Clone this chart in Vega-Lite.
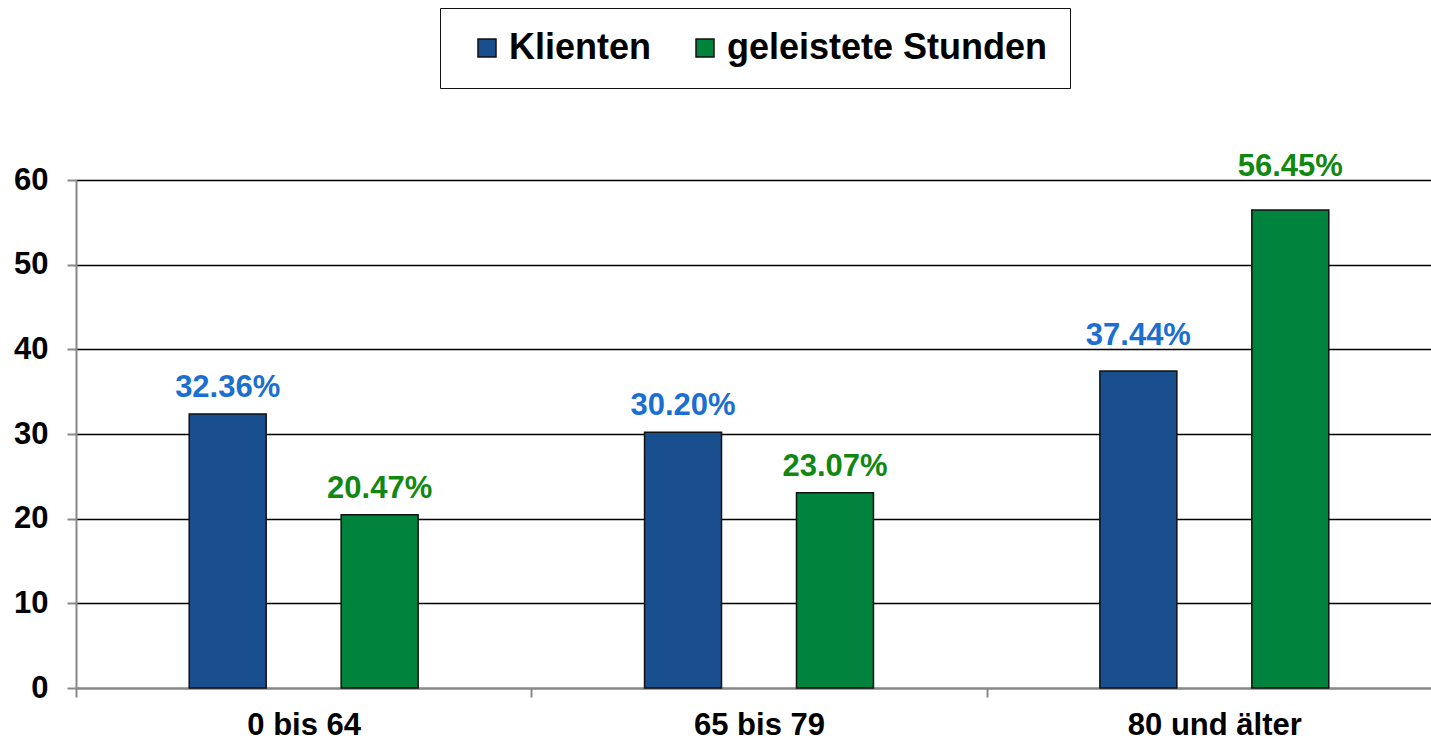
{
  "$schema": "https://vega.github.io/schema/vega-lite/v6.json",
  "autosize": {"type": "none"},
  "padding": {"left": 76, "top": 180, "right": 0, "bottom": 54},
  "width": 1355,
  "height": 508,
  "background": "white",
  "config": {
    "view": {"stroke": null},
    "font": "Liberation Sans",
    "axisY": {
      "labelFontSize": 31,
      "labelFontWeight": "bold",
      "labelColor": "#000000",
      "labelPadding": 19,
      "domainColor": "#888888",
      "domainWidth": 2,
      "tickColor": "#888888",
      "tickWidth": 2,
      "tickSize": 9,
      "grid": true,
      "gridColor": "#000000",
      "gridWidth": 1.5
    }
  },
  "data": {
    "values": [
      {"group": "0 bis 64", "series": "Klienten", "value": 32.36},
      {"group": "0 bis 64", "series": "geleistete Stunden", "value": 20.47},
      {"group": "65 bis 79", "series": "Klienten", "value": 30.20},
      {"group": "65 bis 79", "series": "geleistete Stunden", "value": 23.07},
      {"group": "80 und älter", "series": "Klienten", "value": 37.44},
      {"group": "80 und älter", "series": "geleistete Stunden", "value": 56.45}
    ]
  },
  "transform": [
    {"calculate": "format(datum.value, '.2f') + '%'", "as": "label"},
    {"calculate": "floor((datum.value + 4.7) / 10) * 10 > datum.value + 0.3 ? floor((datum.value + 4.7) / 10) * 10 + 0.5 : datum.value + 2", "as": "labelPos"}
  ],
  "encoding": {
    "x": {
      "field": "group",
      "type": "nominal",
      "sort": ["0 bis 64", "65 bis 79", "80 und älter"],
      "scale": {"range": [0, 1366], "paddingInner": 0, "paddingOuter": 0},
      "axis": {
        "title": null,
        "labelAngle": 0,
        "labelFontSize": 31,
        "labelFontWeight": "bold",
        "labelColor": "#000000",
        "labelPadding": 13,
        "domainColor": "#888888",
        "domainWidth": 2,
        "tickColor": "#888888",
        "tickWidth": 2,
        "tickSize": 9,
        "tickBand": "extent",
        "grid": false
      }
    },
    "xOffset": {
      "field": "series",
      "type": "nominal",
      "sort": ["Klienten", "geleistete Stunden"],
      "scale": {"paddingInner": 0.4934, "paddingOuter": 0.745}
    }
  },
  "layer": [
    {
      "mark": {"type": "bar", "stroke": "#111111", "strokeWidth": 1.5},
      "encoding": {
        "y": {
          "field": "value",
          "type": "quantitative",
          "title": null,
          "scale": {"domain": [0, 60], "nice": false},
          "axis": {"values": [0, 10, 20, 30, 40, 50, 60]}
        },
        "color": {
          "field": "series",
          "type": "nominal",
          "scale": {"domain": ["Klienten", "geleistete Stunden"], "range": ["#1a4f8f", "#00843d"]},
          "legend": {
            "title": null,
            "orient": "none",
            "direction": "horizontal",
            "legendX": 364,
            "legendY": -172,
            "padding": 22,
            "symbolOffset": 7,
            "strokeColor": "#111111",
            "fillColor": "white",
            "symbolType": "square",
            "symbolSize": 324,
            "symbolStrokeColor": "#111111",
            "symbolStrokeWidth": 1.5,
            "symbolOpacity": 1,
            "labelFontSize": 36,
            "labelFontWeight": "bold",
            "labelColor": "#000000",
            "labelLimit": 500,
            "labelOffset": 4,
            "columnPadding": 28
          }
        }
      }
    },
    {
      "mark": {"type": "text", "fontSize": 31, "fontWeight": "bold", "align": "center", "baseline": "alphabetic"},
      "encoding": {
        "y": {"field": "labelPos", "type": "quantitative", "title": null},
        "text": {"field": "label"},
        "color": {
          "condition": {"test": "datum.series === 'Klienten'", "value": "#1a6fd0"},
          "value": "#128812"
        }
      }
    }
  ]
}
